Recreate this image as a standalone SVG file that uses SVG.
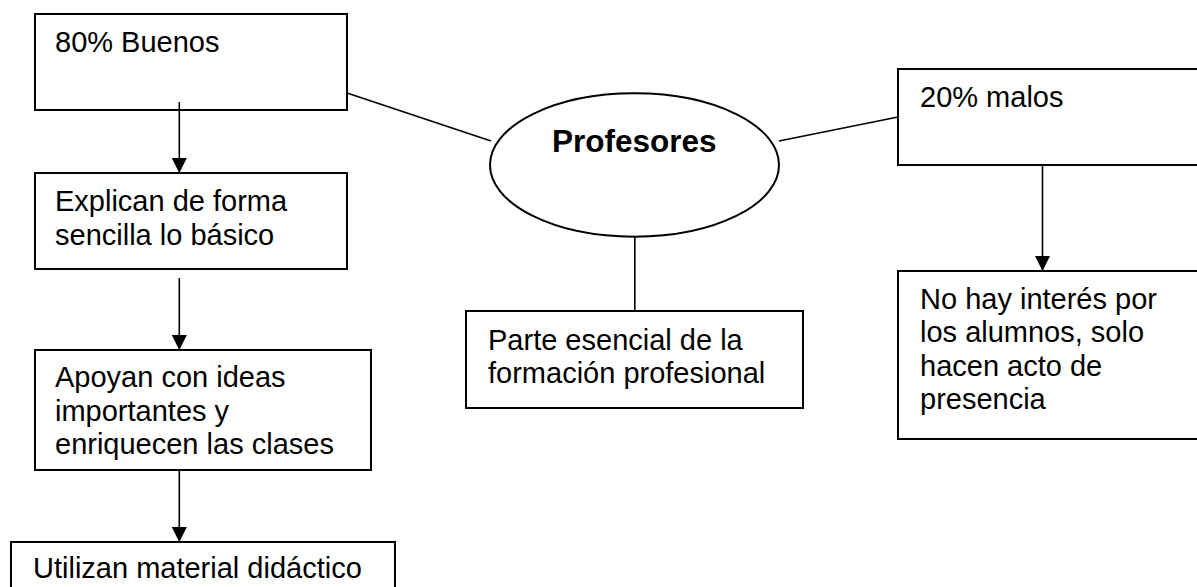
<svg xmlns="http://www.w3.org/2000/svg" width="1197" height="587" viewBox="0 0 1197 587">
<style>
.box{fill:#fff;stroke:#000;stroke-width:2}
.t{font-family:"Liberation Sans",Arial,sans-serif;font-size:29px;fill:#000}
.tb{font-family:"Liberation Sans",Arial,sans-serif;font-size:31.5px;font-weight:bold;fill:#000}
.c{stroke:#000;stroke-width:1.6;fill:none}
</style>
<defs>
<marker id="ah" viewBox="0 0 15 15" refX="15" refY="7.5" markerWidth="15" markerHeight="15" markerUnits="userSpaceOnUse" orient="auto">
<path d="M0,0 L15,7.5 L0,15 Z" fill="#000"/>
</marker>
</defs>
<rect width="1197" height="587" fill="#fff"/>
<g id="n-buenos">
<rect class="box" x="35" y="14" width="312" height="96"/>
<text class="t" x="55" y="52">80% Buenos</text>
</g>
<g id="n-explican">
<rect class="box" x="35" y="173" width="312" height="96"/>
<text class="t" x="55" y="211">Explican de forma</text>
<text class="t" x="55" y="244.5">sencilla lo básico</text>
</g>
<g id="n-apoyan">
<rect class="box" x="35" y="350" width="336" height="120"/>
<text class="t" x="55" y="387">Apoyan con ideas</text>
<text class="t" x="55" y="420.5">importantes y</text>
<text class="t" x="55" y="454">enriquecen las clases</text>
</g>
<g id="n-utilizan">
<rect class="box" x="11" y="542" width="384" height="80"/>
<text class="t" x="33" y="577.5">Utilizan material didáctico</text>
</g>
<g id="n-profesores">
<ellipse cx="634.5" cy="165" rx="144.5" ry="71.7" fill="#fff" stroke="#000" stroke-width="2"/>
<text class="tb" x="552" y="152">Profesores</text>
</g>
<g id="n-parte">
<rect class="box" x="466" y="311" width="337" height="97"/>
<text class="t" x="488" y="349.5">Parte esencial de la</text>
<text class="t" x="488" y="383">formación profesional</text>
</g>
<g id="n-malos">
<rect class="box" x="898" y="69" width="320" height="96"/>
<text class="t" x="920" y="107">20% malos</text>
</g>
<g id="n-nohay">
<rect class="box" x="898" y="271" width="320" height="168"/>
<text class="t" x="920" y="309">No hay interés por</text>
<text class="t" x="920" y="342">los alumnos, solo</text>
<text class="t" x="920" y="375.5">hacen acto de</text>
<text class="t" x="920" y="409">presencia</text>
</g>
<g id="connectors">
<line class="c" x1="347" y1="93" x2="491" y2="141"/>
<line class="c" x1="779" y1="141" x2="898" y2="117"/>
<line class="c" x1="634.8" y1="237" x2="634.8" y2="311"/>
<line class="c" x1="179.3" y1="102" x2="179.3" y2="173" marker-end="url(#ah)"/>
<line class="c" x1="179.3" y1="278" x2="179.3" y2="350" marker-end="url(#ah)"/>
<line class="c" x1="179.3" y1="470" x2="179.3" y2="542" marker-end="url(#ah)"/>
<line class="c" x1="1042.5" y1="165" x2="1042.5" y2="271" marker-end="url(#ah)"/>
</g>
</svg>
